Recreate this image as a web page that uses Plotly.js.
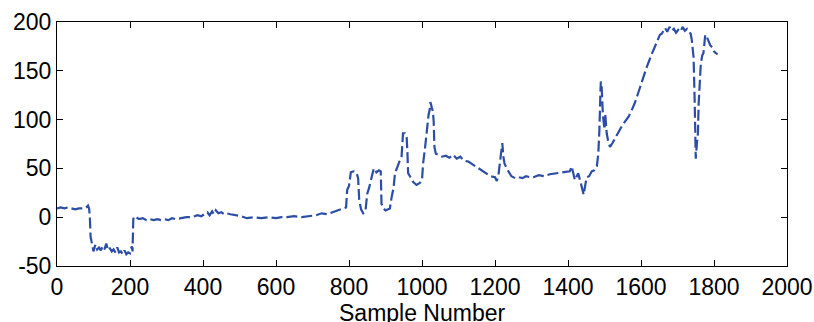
<!DOCTYPE html>
<html>
<head>
<meta charset="utf-8">
<script src="https://cdn.plot.ly/plotly-3.0.1.min.js"></script>
<style>html,body{margin:0;padding:0;background:#fff;}#chart{width:814px;height:322px;}</style>
</head>
<body>
<div id="chart"></div>
<script>
// Sample numbers (x) and signal values (y)
var sampleNumber = [
  0,10,20,30,40,50,60,70,80,85,88,90,92,95,98,100,105,110,115,120,125,130,135,140,145,150,155,160,165,170,175,180,185,190,195,200,203,205,207,208,209,212,218,225,235,245,255,265,275,285,295,305,315,325,340,355,370,385,395,405,412,418,425,430,435,442,450,458,465,475,490,505,520,540,560,580,600,615,630,650,670,690,710,725,740,755,770,785,792,795,800,805,812,820,825,828,833,839,845,850,855,862,868,875,882,887,889,894,900,906,912,917,922,926,932,938,944,948,953,958,960,962,967,972,976,985,994,1000,1003,1008,1011,1014,1018,1021,1023,1027,1030,1032,1034,1038,1045,1055,1065,1075,1085,1095,1105,1115,1127,1140,1152,1163,1175,1188,1200,1205,1210,1214,1218,1220,1223,1226,1232,1237,1245,1255,1265,1275,1285,1295,1305,1320,1335,1350,1365,1380,1395,1405,1410,1415,1419,1424,1428,1435,1440,1443,1446,1451,1458,1465,1472,1479,1483,1486,1489,1490,1492,1493,1495,1497,1500,1502,1504,1506,1510,1515,1522,1529,1538,1547,1556,1566,1575,1584,1593,1602,1610,1616,1627,1639,1646,1652,1657,1662,1666,1672,1678,1684,1690,1696,1702,1708,1714,1720,1726,1732,1736,1739,1742,1744,1747,1749,1750,1753,1756,1758,1760,1764,1768,1771,1773,1776,1780,1785,1790,1795,1800,1805,1810
];
var signalValue = [
  9,10,9,10,9,8,9,9,10,12,9,0,-20,-25,-30,-35,-28,-33,-31,-34,-30,-33,-27,-34,-32,-35,-33,-36,-31,-36,-35,-38,-34,-38,-36,-37,-32,-30,-35,-20,-2,1,0,-2,-1,-3,-2,-3,-2,-3,-2,-3,-1,-2,-1,0,0,2,1,3,5,2,6,3,7,4,5,3,4,3,2,1,-1,0,-1,0,-1,0,0,1,0,1,2,4,3,5,7,9,10,28,32,46,47,46,40,18,8,4,6,24,30,41,50,46,48,47,14,9,7,8,9,21,30,45,52,57,62,86,86,82,67,45,42,39,36,33,35,38,55,70,82,96,105,110,118,112,108,98,72,65,64,62,63,61,64,60,62,58,57,54,51,48,45,42,41,37,45,59,68,76,62,55,50,47,42,40,41,40,42,41,41,43,42,44,45,46,47,47,52,45,38,42,45,35,27,23,30,41,42,47,48,52,65,89,130,139,135,123,110,100,90,106,96,86,78,72,76,81,86,93,98,103,110,118,128,139,147,154,165,175,182,187,188,191,194,190,195,191,193,189,192,190,195,191,193,190,188,182,170,164,120,72,60,75,86,117,134,158,166,168,175,187,185,180,176,174,170,168,167
];
var xTickValues = [0,200,400,600,800,1000,1200,1400,1600,1800,2000];
var yTickValues = [-50,0,50,100,150,200];
var xAxisTitle = 'Sample Number';

var trace = {
  x: sampleNumber,
  y: signalValue,
  type: 'scatter',
  mode: 'lines',
  line: {color: '#2b4da6', width: 2.2, dash: '11px,4px'},
  hoverinfo: 'skip'
};

var axisFont = {family: '"Liberation Sans", Arial, sans-serif', size: 23, color: '#000'};
var layout = {
  width: 814, height: 322,
  margin: {l: 57, r: 27, t: 22, b: 56},
  paper_bgcolor: '#fff', plot_bgcolor: '#fff',
  showlegend: false,
  font: axisFont,
  xaxis: {
    range: [0, 2000], tickvals: xTickValues, ticktext: xTickValues.map(String),
    ticks: 'inside', ticklen: 6, tickwidth: 1, tickcolor: '#000',
    showline: true, linecolor: '#000', linewidth: 1, mirror: 'ticks',
    showgrid: false, zeroline: false, tickfont: axisFont
  },
  yaxis: {
    range: [-50, 200], tickvals: yTickValues, ticktext: yTickValues.map(String),
    ticks: 'inside', ticklen: 6, tickwidth: 1, tickcolor: '#000',
    showline: true, linecolor: '#000', linewidth: 1, mirror: 'ticks',
    showgrid: false, zeroline: false, tickfont: axisFont
  },
  annotations: [{
    text: xAxisTitle, xref: 'paper', yref: 'paper', x: 0.5, y: -0.135,
    xanchor: 'center', yanchor: 'top', showarrow: false, font: axisFont,
    borderpad: 0
  }]
};
Plotly.newPlot('chart', [trace], layout, {staticPlot: true, displayModeBar: false});
</script>
</body>
</html>
